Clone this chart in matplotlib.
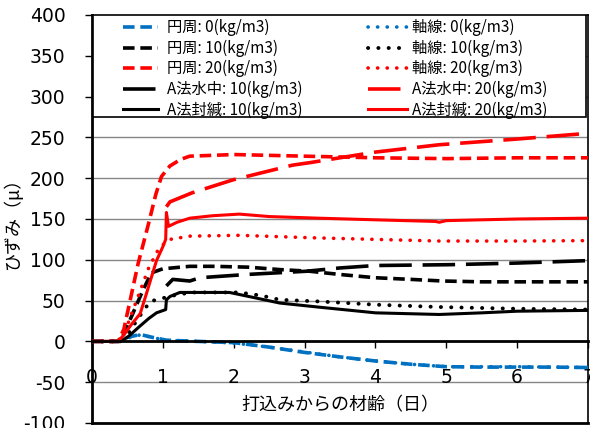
import matplotlib
matplotlib.use("Agg")
import matplotlib.pyplot as plt
from matplotlib.patches import Rectangle
from matplotlib.lines import Line2D

plt.rcParams['font.family'] = ['Noto Sans CJK JP', 'DejaVu Sans']
plt.rcParams['axes.unicode_minus'] = False

BLUE = '#0070C0'
RED = '#FF0000'
BLACK = '#000000'

# data (days, strain in micro)
x_en0 = [0, 0.37, 0.5, 0.68, 0.85, 1.05, 1.5, 2.0, 2.5, 3.0, 3.5, 4.0, 4.5, 5.0, 5.5, 6.0, 6.5, 7.0]
y_en0 = [0, 0, 5, 8.5, 5, 1.5, 0, -1.5, -7, -13.5, -19, -24, -28, -31, -31.5, -31.5, -31.5, -32]
x_ax0 = [0, 0.37, 0.5, 0.68, 0.85, 1.05, 1.5, 2.0, 2.5, 3.0, 3.5, 4.0, 4.5, 5.0, 5.5, 6.0, 6.5, 7.0]
y_ax0 = [0, 0, 4, 8, 5, 1, 0, -2, -7, -13, -19, -24, -28, -31, -31, -31, -31.5, -32]

x_en10 = [0, 0.4, 0.46, 0.58, 0.72, 0.84, 1.0, 1.38, 1.71, 2.2, 2.65, 3.07, 3.5, 4.0, 4.5, 4.95, 5.5, 6.0, 6.5, 7.0]
y_en10 = [0, 0, 11, 35, 63, 84, 89, 92, 92, 91, 88, 86, 82, 78, 76, 74, 73, 73, 73, 73]
x_ax10 = [0, 0.4, 0.5, 0.65, 0.82, 1.0, 1.19, 1.4, 2.08, 2.4, 2.65, 3.2, 4.0, 4.95, 6.0, 7.0]
y_ax10 = [0, 0, 8, 28, 49, 53, 57, 60, 60, 56, 51, 49, 45, 42, 40, 39]

x_en20 = [0, 0.37, 0.45, 0.55, 0.65, 0.8, 0.9, 0.98, 1.1, 1.25, 1.38, 1.7, 2.0, 2.5, 3.0, 4.0, 5.0, 6.0, 7.0]
y_en20 = [0, 0, 15, 55, 95, 145, 180, 202, 215, 223, 227, 228, 229, 228, 227, 225, 224, 225, 225]
x_ax20 = [0, 0.37, 0.5, 0.65, 0.8, 0.95, 1.1, 1.38, 2.08, 3.1, 4.0, 4.9, 6.0, 7.0]
y_ax20 = [0, 0, 20, 55, 90, 115, 125, 129, 130, 127, 125, 123, 123, 123.5]

x_wa10 = [1.05, 1.14, 1.38, 1.52, 2.18, 3.03, 3.5, 4.0, 5.04, 6.0, 7.0]
y_wa10 = [68, 76, 74, 78, 82, 86, 90, 93, 94, 96, 99]
x_wa20 = [1.05, 1.1, 1.41, 1.99, 2.83, 3.07, 4.0, 4.9, 6.0, 7.0]
y_wa20 = [165, 171, 182, 198, 216, 219, 232, 241, 248, 255]

x_se10 = [0, 0.4, 0.5, 0.68, 0.8, 0.91, 1.04, 1.05, 1.1, 1.24, 1.94, 2.27, 2.65, 3.2, 4.0, 4.9, 5.5, 6.0, 7.0]
y_se10 = [0, 0, 5, 19, 28, 35, 39, 51, 55, 60, 60, 54, 47, 42, 35, 33, 35, 37, 38]
x_se20 = [0, 0.37, 0.45, 0.55, 0.68, 0.77, 0.91, 1.0, 1.04, 1.05, 1.08, 1.2, 1.38, 1.7, 2.08, 2.5, 3.2, 4.0, 4.85, 4.9, 5.0, 6.0, 7.0]
y_se20 = [0, 0, 8, 20, 34, 59, 99, 116, 125, 158, 141, 146, 151, 154, 156, 153, 151, 149, 147, 146, 148, 150, 151]

yticks = [-100, -50, 0, 50, 100, 150, 200, 250, 300, 350, 400]
xticks = [0, 1, 2, 3, 4, 5, 6, 7]

fig = plt.figure(figsize=(5.9, 4.28), dpi=100)
ax = fig.add_axes([92 / 590, 5 / 428, 496 / 590, 408 / 428])

for y in yticks:
    if y not in (0, -100, 400):
        ax.axhline(y, color='#868686', lw=1.0, zorder=1)

dash = (0, (3.2, 1.6))
longdash = (0, (9, 3))
dot = (0, (0.05, 2.6))

h = {}
h['en0'], = ax.plot(x_en0, y_en0, color=BLUE, lw=2.6, ls=dash, zorder=3)
h['ax0'], = ax.plot(x_ax0, y_ax0, color=BLUE, lw=2.6, ls=dot, dash_capstyle='round', zorder=3)
h['en10'], = ax.plot(x_en10, y_en10, color=BLACK, lw=2.6, ls=dash, zorder=3)
h['ax10'], = ax.plot(x_ax10, y_ax10, color=BLACK, lw=2.8, ls=dot, dash_capstyle='round', zorder=3)
h['en20'], = ax.plot(x_en20, y_en20, color=RED, lw=2.6, ls=dash, zorder=3)
h['ax20'], = ax.plot(x_ax20, y_ax20, color=RED, lw=2.6, ls=dot, dash_capstyle='round', zorder=3)
h['wa10'], = ax.plot(x_wa10, y_wa10, color=BLACK, lw=2.6, ls=longdash, zorder=3)
h['wa20'], = ax.plot(x_wa20, y_wa20, color=RED, lw=2.6, ls=longdash, zorder=3)
h['se10'], = ax.plot(x_se10, y_se10, color=BLACK, lw=2.2, zorder=3)
h['se20'], = ax.plot(x_se20, y_se20, color=RED, lw=2.2, zorder=3)

# legend shows only one long dash for the A法水中 series
h['wa10'] = Line2D([], [], color=BLACK, lw=2.6, ls=(0, (9, 20)))
h['wa20'] = Line2D([], [], color=RED, lw=2.6, ls=(0, (9, 20)))

ax.set_xlim(0, 7)
ax.set_ylim(-100, 400)
ax.set_yticks(yticks)
ax.set_xticks(xticks)

ax.spines['bottom'].set_position(('data', 0))
ax.spines['bottom'].set_linewidth(2)
ax.spines['bottom'].set_zorder(4)
ax.spines['left'].set_linewidth(2)
ax.spines['right'].set_linewidth(1.2)
ax.spines['top'].set_linewidth(1.2)
ax.axhline(-100, color='black', lw=2, clip_on=False, zorder=5)

ax.tick_params(axis='y', direction='out', length=5, width=1, pad=14, labelsize=13.5,
               labelfontfamily='DejaVu Sans')
ax.tick_params(axis='x', direction='out', length=5, width=1, pad=14, labelsize=13.5,
               labelfontfamily='DejaVu Sans')

ax.set_ylabel('ひずみ（μ）', fontsize=13)
ax.yaxis.set_label_coords(-0.14, 0.5)
ax.text(3.5, -78, '打込みからの材齢（日）', ha='center', va='center', fontsize=13)

# legend box across the top of the plot
ax.add_patch(Rectangle((0.002, 0.75), 0.994, 0.25, transform=ax.transAxes,
                       facecolor='white', edgecolor='black', lw=1.2, zorder=5))

left = ['en0', 'en10', 'en20', 'wa10', 'se10']
right = ['ax0', 'ax10', 'ax20', 'wa20', 'se20']
labels = {
    'en0': '円周: 0(kg/m3)', 'en10': '円周: 10(kg/m3)', 'en20': '円周: 20(kg/m3)',
    'wa10': 'A法水中: 10(kg/m3)', 'se10': 'A法封緘: 10(kg/m3)',
    'ax0': '軸線: 0(kg/m3)', 'ax10': '軸線: 10(kg/m3)', 'ax20': '軸線: 20(kg/m3)',
    'wa20': 'A法水中: 20(kg/m3)', 'se20': 'A法封緘: 20(kg/m3)',
}
common = dict(loc='upper left', fontsize=11, frameon=False, borderpad=0,
              borderaxespad=0, labelspacing=0.22)
leg1 = ax.legend([h[k] for k in left], [labels[k] for k in left],
                 bbox_to_anchor=((123 - 92) / 496, 0.99), handlelength=2.3,
                 handletextpad=0.55, **common)
leg1.set_zorder(6)
ax.add_artist(leg1)
leg2 = ax.legend([h[k] for k in right], [labels[k] for k in right],
                 bbox_to_anchor=((368 - 92) / 496, 0.99), handlelength=2.55,
                 handletextpad=0.3, **common)
leg2.set_zorder(6)

fig.savefig('out.png', dpi=100)
